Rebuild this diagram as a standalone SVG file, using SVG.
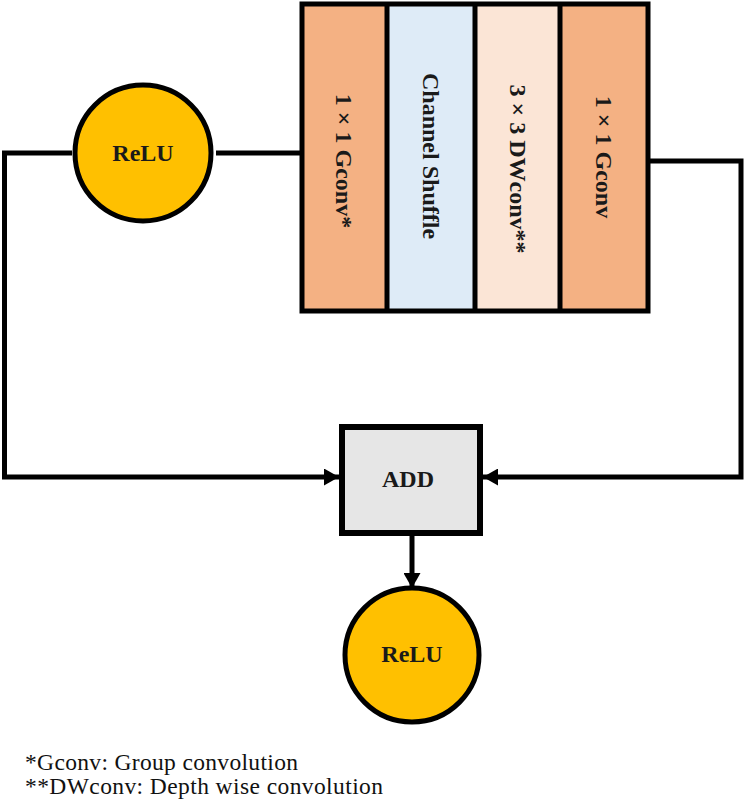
<svg xmlns="http://www.w3.org/2000/svg" width="747" height="810" viewBox="0 0 747 810">
<style>
.ln{fill:none;stroke:#000;stroke-width:5;stroke-linejoin:miter}
.bx{stroke:#000;stroke-width:5}
.lbl{font-family:"Liberation Serif","Times New Roman",serif;font-weight:bold;font-size:24px;fill:#1a1a1a;text-anchor:middle}
.note{font-family:"Liberation Serif","Times New Roman",serif;font-size:23.5px;fill:#111}
.relu{fill:#FFC000;stroke:#000;stroke-width:5}
</style>
<defs>
<marker id="ah" markerWidth="15" markerHeight="17" refX="15" refY="8.5" orient="auto" markerUnits="userSpaceOnUse" viewBox="0 0 15 17">
<path d="M0,0 L15,8.5 L0,17 Z" fill="#000"/>
</marker>
</defs>
<g id="connectors">
<path class="ln" d="M72,153 H4.5 V477 H339" marker-end="url(#ah)"/>
<path class="ln" d="M216,153 H300"/>
<path class="ln" d="M650,161 H741 V477 H483" marker-end="url(#ah)"/>
<path class="ln" d="M412,536 V588" marker-end="url(#ah)"/>
</g>
<g id="block">
<rect x="302" y="4" width="85" height="307" fill="#F4B183"/>
<rect x="387" y="4" width="88" height="307" fill="#DEEBF7"/>
<rect x="475" y="4" width="85" height="307" fill="#FBE5D6"/>
<rect x="560" y="4" width="88" height="307" fill="#F4B183"/>
<line class="bx" x1="387" y1="4" x2="387" y2="311"/>
<line class="bx" x1="475" y1="4" x2="475" y2="311"/>
<line class="bx" x1="560" y1="4" x2="560" y2="311"/>
<rect x="302" y="4" width="346" height="307" fill="none" class="bx"/>
</g>
<g id="gconv1">
<text class="lbl" transform="translate(344,161) rotate(90)" dy="8">1 × 1 Gconv*</text>
</g>
<g id="shuffle">
<text class="lbl" transform="translate(431,156) rotate(90)" dy="8">Channel Shuffle</text>
</g>
<g id="dwconv">
<text class="lbl" transform="translate(518,169) rotate(90)" dy="8">3 × 3 DWconv**</text>
</g>
<g id="gconv2">
<text class="lbl" transform="translate(604,157) rotate(90)" dy="8">1 × 1 Gconv</text>
</g>
<g id="relu1">
<circle class="relu" cx="143" cy="153" r="68"/>
<text class="lbl" x="143" y="161">ReLU</text>
</g>
<g id="add">
<rect x="342" y="427" width="138" height="106" fill="#E6E6E6" stroke="#000" stroke-width="6"/>
<text class="lbl" x="408" y="487">ADD</text>
</g>
<g id="relu2">
<circle class="relu" cx="412" cy="655" r="67"/>
<text class="lbl" x="412" y="662">ReLU</text>
</g>
<g id="notes">
<text class="note" x="25" y="770" textLength="273" lengthAdjust="spacing">*Gconv: Group convolution</text>
<text class="note" x="25" y="794" textLength="358" lengthAdjust="spacing">**DWconv: Depth wise convolution</text>
</g>
</svg>
